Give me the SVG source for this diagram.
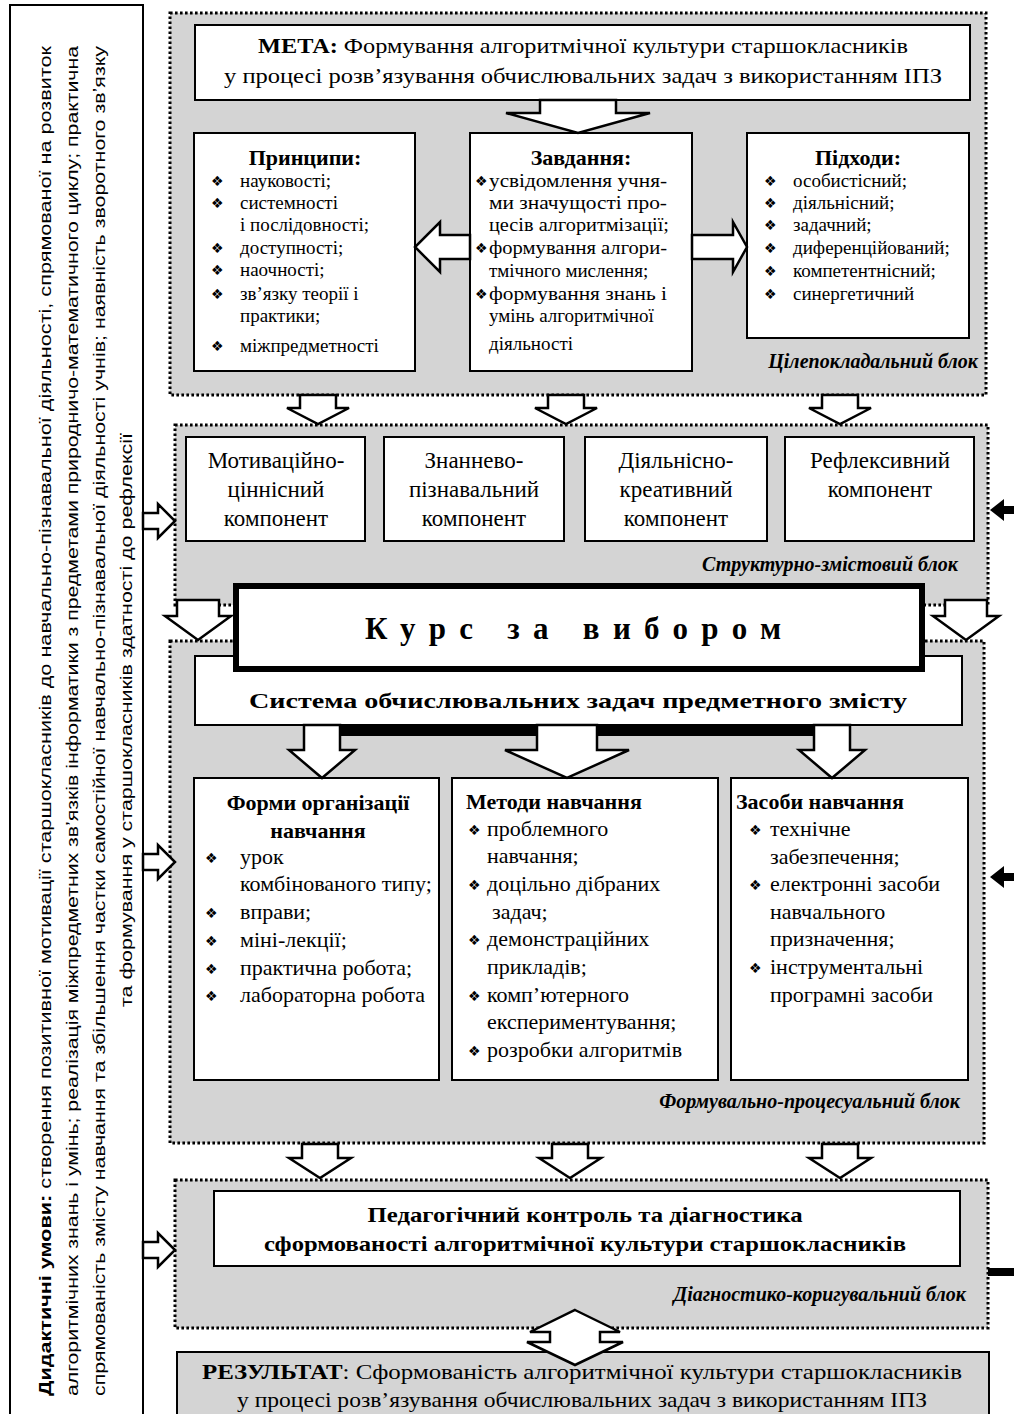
<svg xmlns="http://www.w3.org/2000/svg" width="1014" height="1414" viewBox="0 0 1014 1414">
<defs>
<style>
.blk{fill:#d4d4d4;stroke:#000;stroke-width:3;stroke-dasharray:2.6 2.4}
.box{fill:#fff;stroke:#000;stroke-width:2}
.gbox{fill:#d4d4d4;stroke:#000;stroke-width:2}
.arr{fill:#fff;stroke:#000;stroke-width:2.5;stroke-linejoin:miter}
.barr{fill:#000}
text{font-family:"Liberation Serif","Times New Roman",serif;fill:#000}
.c{text-anchor:middle}
.b{font-weight:bold}
.h{font-size:22px;font-weight:bold}
.i{font-size:19px}
.j{font-size:22px}
.k{font-size:23px}
.lab{font-size:20px;font-style:italic;font-weight:bold;text-anchor:end}
.bul{font-family:"DejaVu Sans",sans-serif;font-size:14px}
.side{font-family:"Liberation Sans",Arial,sans-serif;font-size:17px}
</style>
</defs>
<rect x="0" y="0" width="1014" height="1414" fill="#fff"/>

<g id="conditions">
<rect x="10" y="5" width="133" height="1420" class="box"/>
<text class="side" transform="rotate(-90)" x="-1396" y="51" textLength="1350" lengthAdjust="spacingAndGlyphs"><tspan class="b">Дидактичні умови:</tspan> створення позитивної мотивації старшокласників до навчально-пізнавальної діяльності, спрямованої на розвиток</text>
<text class="side" transform="rotate(-90)" x="-1396" y="78" textLength="1350" lengthAdjust="spacingAndGlyphs">алгоритмічних знань і умінь; реалізація міжпредметних зв’язків інформатики з предметами природничо-математичного циклу; практична</text>
<text class="side" transform="rotate(-90)" x="-1396" y="105" textLength="1350" lengthAdjust="spacingAndGlyphs">спрямованість змісту навчання та збільшення частки самостійної навчально-пізнавальної діяльності учнів; наявність зворотного зв’язку</text>
<text class="side" transform="rotate(-90)" x="-1007" y="132" textLength="574" lengthAdjust="spacingAndGlyphs">та формування у старшокласників здатності до рефлексії</text>
</g>

<g id="block-goal">
<rect x="170" y="13" width="816" height="382" class="blk"/>
<text class="lab" x="978" y="368">Цілепокладальний блок</text>
</g>
<g id="meta">
<rect x="195" y="25" width="775" height="75" class="box"/>
<text class="j c" x="583" y="53" textLength="650" lengthAdjust="spacingAndGlyphs"><tspan class="b">МЕТА:</tspan> Формування алгоритмічної культури старшокласників</text>
<text class="j c" x="583" y="83" textLength="718" lengthAdjust="spacingAndGlyphs">у процесі розв’язування обчислювальних задач з використанням ІПЗ</text>
</g>
<g id="principles">
<rect x="194" y="133" width="221" height="238" class="box"/>
<text class="h c" x="305" y="165">Принципи:</text>
<g class="i">
<text class="bul" x="211" y="186">❖</text><text x="240" y="187">науковості;</text>
<text class="bul" x="211" y="208">❖</text><text x="240" y="209">системності</text>
<text x="240" y="231">і послідовності;</text>
<text class="bul" x="211" y="253">❖</text><text x="240" y="254">доступності;</text>
<text class="bul" x="211" y="275">❖</text><text x="240" y="276">наочності;</text>
<text class="bul" x="211" y="299">❖</text><text x="240" y="300">зв’язку теорії і</text>
<text x="240" y="322">практики;</text>
<text class="bul" x="211" y="351">❖</text><text x="240" y="352">міжпредметності</text>
</g>
</g>
<g id="tasks">
<rect x="470" y="133" width="222" height="238" class="box"/>
<text class="h c" x="581" y="165">Завдання:</text>
<g class="i">
<text class="bul" x="475" y="186">❖</text><text x="489" y="187" textLength="178" lengthAdjust="spacingAndGlyphs">усвідомлення учня-</text>
<text x="489" y="209" textLength="178" lengthAdjust="spacingAndGlyphs">ми значущості про-</text>
<text x="489" y="231" textLength="180" lengthAdjust="spacingAndGlyphs">цесів алгоритмізації;</text>
<text class="bul" x="475" y="253">❖</text><text x="489" y="254" textLength="178" lengthAdjust="spacingAndGlyphs">формування алгори-</text>
<text x="489" y="277">тмічного мислення;</text>
<text class="bul" x="475" y="299">❖</text><text x="489" y="300" textLength="178" lengthAdjust="spacingAndGlyphs">формування знань і</text>
<text x="489" y="322">умінь алгоритмічної</text>
<text x="489" y="350">діяльності</text>
</g>
</g>
<g id="approaches">
<rect x="747" y="133" width="222" height="205" class="box"/>
<text class="h c" x="858" y="165">Підходи:</text>
<g class="i">
<text class="bul" x="764" y="186">❖</text><text x="793" y="187">особистісний;</text>
<text class="bul" x="764" y="208">❖</text><text x="793" y="209">діяльнісний;</text>
<text class="bul" x="764" y="230">❖</text><text x="793" y="231">задачний;</text>
<text class="bul" x="764" y="253">❖</text><text x="793" y="254">диференційований;</text>
<text class="bul" x="764" y="276">❖</text><text x="793" y="277">компетентнісний;</text>
<text class="bul" x="764" y="299">❖</text><text x="793" y="300">синергетичний</text>
</g>
</g>

<g id="block-structure">
<rect x="175" y="425" width="813" height="180" class="blk"/>
<text class="lab" x="958" y="571">Структурно-змістовий блок</text>
</g>
<g id="comp-motiv">
<rect x="186" y="437" width="179" height="104" class="box"/>
<text class="k c" x="276" y="468">Мотиваційно-</text>
<text class="k c" x="276" y="497">ціннісний</text>
<text class="k c" x="276" y="526">компонент</text>
</g>
<g id="comp-know">
<rect x="384" y="437" width="180" height="104" class="box"/>
<text class="k c" x="474" y="468">Знанневo-</text>
<text class="k c" x="474" y="497">пізнавальний</text>
<text class="k c" x="474" y="526">компонент</text>
</g>
<g id="comp-act">
<rect x="585" y="437" width="182" height="104" class="box"/>
<text class="k c" x="676" y="468">Діяльнісно-</text>
<text class="k c" x="676" y="497">креативний</text>
<text class="k c" x="676" y="526">компонент</text>
</g>
<g id="comp-refl">
<rect x="785" y="437" width="189" height="104" class="box"/>
<text class="k c" x="880" y="468">Рефлексивний</text>
<text class="k c" x="880" y="497">компонент</text>
</g>

<g id="block-process">
<rect x="170" y="641" width="814" height="502" class="blk"/>
<text class="lab" x="960" y="1108">Формувально-процесуальний блок</text>
</g>
<g id="system">
<rect x="195" y="656" width="767" height="69" class="box"/>
<text class="j b c" x="578" y="708" textLength="658" lengthAdjust="spacingAndGlyphs">Система обчислювальних задач предметного змісту</text>
<rect x="335" y="726" width="500" height="10" fill="#000"/>
</g>
<g id="course">
<rect x="236" y="586" width="686" height="83" fill="#fff" stroke="#000" stroke-width="6"/>
<text class="b c" x="573" y="639" font-size="31" textLength="416" lengthAdjust="spacing">Курс за вибором</text>
</g>
<g id="forms">
<rect x="194" y="778" width="245" height="302" class="box"/>
<text class="h c" x="318" y="810">Форми організації</text>
<text class="h c" x="318" y="838">навчання</text>
<g class="j">
<text class="bul" x="205" y="863">❖</text><text x="240" y="864">урок</text>
<text x="240" y="891">комбінованого типу;</text>
<text class="bul" x="205" y="918">❖</text><text x="240" y="919">вправи;</text>
<text class="bul" x="205" y="946">❖</text><text x="240" y="947">міні-лекції;</text>
<text class="bul" x="205" y="974">❖</text><text x="240" y="975">практична робота;</text>
<text class="bul" x="205" y="1001">❖</text><text x="240" y="1002">лабораторна робота</text>
</g>
</g>
<g id="methods">
<rect x="452" y="778" width="266" height="302" class="box"/>
<text class="h" x="466" y="809">Методи навчання</text>
<g class="j">
<text class="bul" x="468" y="835">❖</text><text x="487" y="836">проблемного</text>
<text x="487" y="863">навчання;</text>
<text class="bul" x="468" y="890">❖</text><text x="487" y="891">доцільно дібраних</text>
<text x="492" y="919">задач;</text>
<text class="bul" x="468" y="945">❖</text><text x="487" y="946">демонстраційних</text>
<text x="487" y="974">прикладів;</text>
<text class="bul" x="468" y="1001">❖</text><text x="487" y="1002">комп’ютерного</text>
<text x="487" y="1029">експериментування;</text>
<text class="bul" x="468" y="1056">❖</text><text x="487" y="1057">розробки алгоритмів</text>
</g>
</g>
<g id="means">
<rect x="731" y="778" width="237" height="302" class="box"/>
<text class="h" x="736" y="809">Засоби навчання</text>
<g class="j">
<text class="bul" x="749" y="835">❖</text><text x="770" y="836">технічне</text>
<text x="770" y="864">забезпечення;</text>
<text class="bul" x="749" y="890">❖</text><text x="770" y="891">електронні засоби</text>
<text x="770" y="919">навчального</text>
<text x="770" y="946">призначення;</text>
<text class="bul" x="749" y="973">❖</text><text x="770" y="974">інструментальні</text>
<text x="770" y="1002">програмні засоби</text>
</g>
</g>

<g id="block-diagnostic">
<rect x="175" y="1180" width="813" height="148" class="blk"/>
<text class="lab" x="966" y="1301">Діагностико-коригувальний блок</text>
</g>
<g id="control">
<rect x="214" y="1191" width="746" height="75" class="box"/>
<text class="j b c" x="585" y="1222" textLength="435" lengthAdjust="spacingAndGlyphs">Педагогічний контроль та діагностика</text>
<text class="j b c" x="585" y="1251" textLength="642" lengthAdjust="spacingAndGlyphs">сформованості алгоритмічної культури старшокласників</text>
</g>
<g id="result">
<rect x="177" y="1352" width="812" height="80" class="gbox"/>
<text class="j c" x="582" y="1379" textLength="760" lengthAdjust="spacingAndGlyphs"><tspan class="b">РЕЗУЛЬТАТ</tspan>:  Сформованість алгоритмічної культури старшокласників</text>
<text class="j c" x="582" y="1407" textLength="690" lengthAdjust="spacingAndGlyphs">у процесі розв’язування обчислювальних задач з використанням ІПЗ</text>
</g>

<g id="connectors">
<path class="arr" d="M540,100 H616 V113 H650 L578,133 L506,113 H540 Z"/>
<path class="arr" d="M470,235 H440 V222 L415,247 L440,272 V259 H470 Z"/>
<path class="arr" d="M692,235 H733 V222 L747,247 L733,272 V259 H692 Z"/>
<path class="arr" d="M300,395 H336 V408 H349 L318,424 L287,408 H300 Z"/>
<path class="arr" d="M548,395 H584 V408 H597 L566,424 L535,408 H548 Z"/>
<path class="arr" d="M822,395 H858 V408 H871 L840,424 L809,408 H822 Z"/>
<path class="arr" d="M177,600 H219 V616 H231 L198,640 L165,616 H177 Z"/>
<path class="arr" d="M945,600 H987 V616 H999 L966,640 L933,616 H945 Z"/>
<path class="arr" d="M304,725 H340 V750 H355 L322,778 L289,750 H304 Z"/>
<path class="arr" d="M537,725 H597 V750 H629 L567,778 L505,750 H537 Z"/>
<path class="arr" d="M814,725 H850 V750 H865 L832,778 L799,750 H814 Z"/>
<path class="arr" d="M302,1144 H338 V1158 H351 L320,1178 L289,1158 H302 Z"/>
<path class="arr" d="M552,1144 H588 V1158 H601 L570,1178 L539,1158 H552 Z"/>
<path class="arr" d="M822,1144 H858 V1158 H871 L840,1178 L809,1158 H822 Z"/>
<path class="arr" d="M575,1310 L620,1332 H600 V1342 H623 L575,1365 L527,1342 H550 V1332 H530 Z"/>
<path class="arr" d="M143,513 H158 V504 L175,521 L158,538 V529 H143 Z"/>
<path class="arr" d="M143,854 H158 V845 L175,862 L158,879 V870 H143 Z"/>
<path class="arr" d="M143,1242 H158 V1233 L175,1250 L158,1267 V1258 H143 Z"/>
<path class="barr" d="M990,510 L1004,499 V506 H1014 V514 H1004 V521 Z"/>
<path class="barr" d="M990,877 L1004,866 V873 H1014 V881 H1004 V888 Z"/>
<rect class="barr" x="988" y="1268" width="26" height="8"/>
</g>
</svg>
